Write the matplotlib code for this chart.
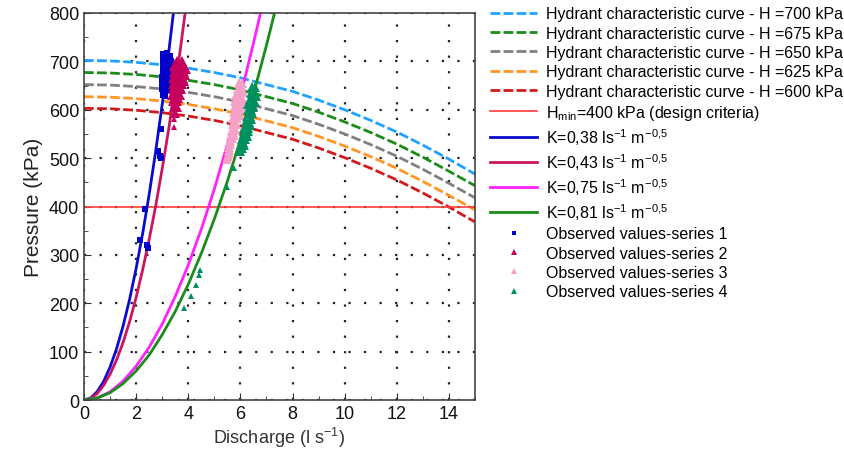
import numpy as np
from matplotlib import pyplot as plt

plt.rcParams['font.family'] = ['Liberation Sans', 'DejaVu Sans']
plt.rcParams['mathtext.fontset'] = 'custom'
plt.rcParams['mathtext.rm'] = 'Liberation Sans'

# hydrant characteristic curves
q_h = [0, 1, 2, 3, 4, 5, 6, 7, 8, 9, 10, 11, 12, 13, 14, 15]
h700 = [702, 701, 698, 693, 686, 677, 666, 652, 638, 620, 600, 578, 554, 527, 498, 467]
h675 = [677, 676, 673, 668, 661, 652, 641, 627, 613, 595, 575, 553, 529, 502, 473, 443]
h650 = [652, 651, 648, 643, 636, 627, 616, 602, 588, 570, 550, 528, 504, 477, 448, 418]
h625 = [627, 626, 623, 618, 611, 602, 591, 577, 563, 545, 525, 503, 479, 452, 423, 393]
h600 = [603, 602, 599, 594, 587, 578, 567, 553, 539, 521, 501, 479, 455, 428, 399, 368]

h_min = 400

# K curves
k038_q = [0, 0.25, 0.5, 0.75, 1, 1.25, 1.5, 1.75, 2, 2.25, 2.5, 2.75, 3, 3.2, 3.43]
k038_p = [0, 4, 17, 38, 68, 106, 153, 208, 272, 344, 425, 514, 611, 696, 800]
k043_q = [0, 0.25, 0.5, 0.75, 1, 1.25, 1.5, 1.75, 2, 2.25, 2.5, 2.75, 3, 3.25, 3.5, 3.7, 3.88]
k043_p = [0, 3, 13, 30, 53, 83, 119, 162, 212, 269, 332, 401, 478, 560, 650, 726, 800]
k075_q = [0, 0.5, 1, 1.5, 2, 2.5, 3, 3.5, 4, 4.5, 5, 5.5, 6, 6.5, 6.77]
k075_p = [0, 4, 17, 39, 70, 109, 157, 214, 279, 353, 436, 528, 628, 737, 800]
k081_q = [0, 0.5, 1, 1.5, 2, 2.5, 3, 3.5, 4, 4.5, 5, 5.5, 6, 6.5, 7, 7.31]
k081_p = [0, 4, 15, 34, 60, 93, 135, 183, 239, 303, 374, 452, 538, 632, 733, 800]

# observed values (dense clusters)
s1_q = [3.05, 3.20, 3.30, 3.05, 3.20, 3.32, 3.03, 3.18, 3.30, 3.02, 3.17, 3.28,
        3.00, 3.15, 3.27, 3.00, 3.13, 3.25, 3.00, 3.12, 3.22, 3.02, 3.12,
        3.12, 3.25, 3.10, 3.24, 3.08, 3.22, 3.07, 3.20, 3.06, 3.18, 3.05, 3.16]
s1_p = [715, 718, 712, 703, 705, 700, 691, 693, 688, 679, 681, 676,
        667, 669, 664, 655, 657, 652, 643, 645, 640, 631, 629,
        709, 709, 697, 697, 685, 685, 673, 673, 661, 661, 649, 649]
s2_q = [3.55, 3.75, 3.45, 3.65, 3.85, 3.45, 3.65, 3.85, 3.40, 3.60, 3.80, 3.40, 3.60, 3.75,
        3.40, 3.58, 3.72, 3.38, 3.55, 3.68, 3.40, 3.58, 3.45, 3.55, 3.48,
        3.50, 3.70, 3.80, 3.55, 3.75, 3.90, 3.50, 3.70, 3.88, 3.50, 3.70, 3.82,
        3.48, 3.66, 3.47, 3.62, 3.47, 3.62, 3.50]
s2_p = [700, 700, 690, 690, 690, 678, 678, 678, 666, 666, 666, 654, 654, 654,
        642, 642, 642, 630, 630, 630, 618, 618, 606, 606, 594,
        695, 695, 695, 684, 684, 684, 672, 672, 672, 660, 660, 660,
        648, 648, 636, 636, 624, 624, 612]
s3_q = [5.95, 6.08, 5.90, 6.05, 5.85, 6.00, 5.80, 5.95, 6.05, 5.78, 5.92, 6.02, 5.75, 5.90,
        5.72, 5.86, 5.70, 5.82, 5.68, 5.78, 5.65, 5.75, 5.62, 5.58, 5.55, 5.50,
        6.02, 5.98, 6.10, 5.92, 6.05, 5.87, 6.00, 5.83, 5.97, 5.80, 5.93,
        5.77, 5.74, 5.72, 5.68, 5.60, 5.57, 5.52]
s3_p = [655, 655, 643, 643, 631, 631, 619, 619, 619, 607, 607, 607, 595, 595,
        583, 583, 571, 571, 559, 559, 547, 547, 535, 523, 511, 499,
        649, 637, 637, 625, 625, 613, 613, 601, 601, 589, 589,
        577, 565, 553, 541, 529, 517, 505]
s4_q = [6.45, 6.55, 6.40, 6.55, 6.35, 6.50, 6.30, 6.45, 6.28, 6.42, 6.25, 6.38, 6.20, 6.32,
        6.15, 6.28, 6.12, 6.22, 6.08, 6.18, 6.02, 6.12, 6.00,
        6.50, 6.45, 6.58, 6.40, 6.55, 6.37, 6.50, 6.33, 6.45, 6.27, 6.40,
        6.25, 6.35, 6.18, 6.28, 6.15, 6.25, 6.10, 6.05]
s4_p = [647, 647, 635, 635, 623, 623, 611, 611, 599, 599, 587, 587, 575, 575,
        563, 563, 551, 551, 539, 539, 527, 527, 515,
        641, 629, 629, 617, 617, 605, 605, 593, 593, 581, 581,
        569, 569, 557, 557, 545, 545, 533, 521]

# isolated observed points
s1_out_q = [2.95, 2.85, 2.90, 2.95, 2.35, 2.15, 2.40, 2.45]
s1_out_p = [560, 515, 505, 500, 395, 330, 320, 315]
s2_out_q = [3.45, 3.45]
s2_out_p = [580, 565]
s4_out_q = [5.75, 5.50, 4.45, 4.40, 4.30, 4.10, 3.85]
s4_out_p = [480, 440, 268, 258, 238, 215, 190]

fig = plt.figure(figsize=(8.45, 4.56), dpi=100)
ax = fig.add_axes([0.0994, 0.1206, 0.4627, 0.8487])

dash = (3.5, 1.2)
ax.plot(q_h, h700, color='#1fa2ff', lw=2, dashes=dash, label='Hydrant characteristic curve - H =700 kPa')
ax.plot(q_h, h675, color='#1a8c1a', lw=2, dashes=dash, label='Hydrant characteristic curve - H =675 kPa')
ax.plot(q_h, h650, color='#808080', lw=2, dashes=dash, label='Hydrant characteristic curve - H =650 kPa')
ax.plot(q_h, h625, color='#ff9525', lw=2, dashes=dash, label='Hydrant characteristic curve - H =625 kPa')
ax.plot(q_h, h600, color='#d21a1a', lw=2, dashes=dash, label='Hydrant characteristic curve - H =600 kPa')
ax.axhline(h_min, color='#ff3b3b', lw=1.2, label=r'H$_{\mathregular{min}}$=400 kPa (design criteria)')

sup = r' ls$^{\mathregular{-1}}$ m$^{\mathregular{-0{,}5}}$'
ax.plot(k038_q, k038_p, color='#0a0ad0', lw=2, label='K=0,38' + sup)
ax.plot(k043_q, k043_p, color='#cc1560', lw=2, label='K=0,43' + sup)
ax.plot(k075_q, k075_p, color='#ff22ff', lw=2, label='K=0,75' + sup)
ax.plot(k081_q, k081_p, color='#1a8c1a', lw=2, label='K=0,81' + sup)

c1, c2, c3, c4 = '#0000c8', '#c4005c', '#f5a0c6', '#009060'
ax.plot(s1_q, s1_p, ls='none', marker='s', ms=5, mew=0, color=c1, label='Observed values-series 1')
ax.plot(s2_q, s2_p, ls='none', marker='^', ms=6.5, mew=0, color=c2, label='Observed values-series 2')
ax.plot(s3_q, s3_p, ls='none', marker='^', ms=6.5, mew=0, color=c3, label='Observed values-series 3')
ax.plot(s4_q, s4_p, ls='none', marker='^', ms=6.5, mew=0, color=c4, label='Observed values-series 4')
ax.plot(s1_out_q, s1_out_p, ls='none', marker='s', ms=4, mew=0, color=c1)
ax.plot(s2_out_q, s2_out_p, ls='none', marker='^', ms=4.5, mew=0, color=c2)
ax.plot(s4_out_q, s4_out_p, ls='none', marker='^', ms=4.5, mew=0, color=c4)

ax.set_xlim(0, 15)
ax.set_ylim(0, 800)
ax.set_xticks(np.arange(0, 15, 2))
ax.set_yticks(np.arange(0, 801, 100))
ax.set_xticks(np.arange(0, 16, 1), minor=True)
ax.set_yticks(np.arange(0, 801, 50), minor=True)
ax.tick_params(which='both', direction='in', labelsize=13, colors='#333333', labelcolor='#111111')
ax.tick_params(which='major', length=5)
ax.tick_params(which='minor', length=3)
ax.grid(True, which='major', color='#222222', lw=1.6, ls=(0, (1, 6)))
for s in ax.spines.values():
    s.set_color('#444444')
    s.set_linewidth(1.2)

ax.set_xlabel(r'Discharge (l s$^{\mathregular{-1}}$)', fontsize=13, color='#333333', labelpad=2)
ax.set_ylabel('Pressure (kPa)', fontsize=15, color='#222222', labelpad=4)

fig.legend(loc='upper left', bbox_to_anchor=(0.568, 1.005), frameon=False, fontsize=11.5,
           handlelength=3.0, labelspacing=0.27, numpoints=1, markerscale=0.6,
           handletextpad=0.55, borderaxespad=0.2)

plt.savefig('out.png', dpi=100)
